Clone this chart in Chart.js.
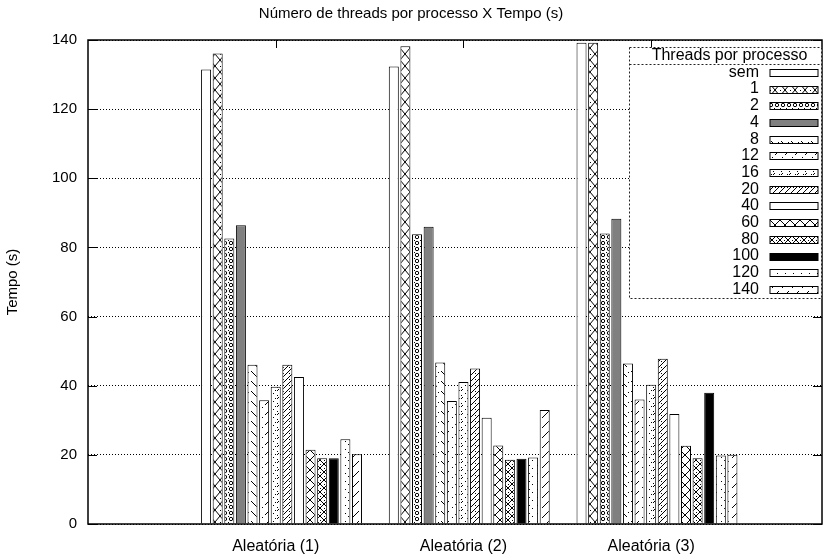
<!DOCTYPE html>
<html lang="pt">
<head>
<meta charset="UTF-8">
<title>Número de threads por processo X Tempo (s)</title>
<script src="https://cdn.jsdelivr.net/npm/chart.js"></script>
<style>
  html, body { margin: 0; padding: 0; background: #fff; }
  #chart { display: block; }
</style>
</head>
<body>
<canvas id="chart" width="832" height="556"></canvas>
<script>
// groups on the x axis
const categories = ['Aleatória (1)', 'Aleatória (2)', 'Aleatória (3)'];
// threads per process (legend)
const threadLabels = ['sem', '1', '2', '4', '8', '12', '16', '20', '40', '60', '80', '100', '120', '140'];
// time (s) for each group
const tSem = [131.5, 132.3, 139.2];
const t1   = [136.1, 138.2, 139.2];
const t2   = [82.6, 83.8, 84.0];
const t4   = [86.4, 86.0, 88.3];
const t8   = [46.1, 46.7, 46.4];
const t12  = [35.8, 35.6, 36.0];
const t16  = [39.7, 41.1, 40.3];
const t20  = [46.1, 45.0, 47.8];
const t40  = [42.5, 30.7, 31.8];
const t60  = [21.5, 22.7, 22.6];
const t80  = [19.0, 18.6, 19.0];
const t100 = [19.0, 18.9, 38.0];
const t120 = [24.5, 19.2, 19.8];
const t140 = [20.2, 33.0, 20.0];
const seriesValues = [tSem, t1, t2, t4, t8, t12, t16, t20, t40, t60, t80, t100, t120, t140];
const yTicks = [0, 20, 40, 60, 80, 100, 120, 140];

const FONT = '"Liberation Sans", Arial, Helvetica, sans-serif';

// gnuplot-like fill patterns
function makePattern(w, h, draw) {
	const c = document.createElement('canvas');
	c.width = w; c.height = h;
	const g = c.getContext('2d');
	g.fillStyle = '#fff'; g.fillRect(0, 0, w, h);
	g.strokeStyle = '#000'; g.fillStyle = '#000'; g.lineWidth = 1;
	draw(g);
	return g.createPattern(c, 'repeat');
}
function line(g, x1, y1, x2, y2) { g.beginPath(); g.moveTo(x1, y1); g.lineTo(x2, y2); g.stroke(); }
function dot(g, x, y) { g.fillRect(x, y, 1, 1); }

const fills = [
	'#fff',
	makePattern(10, 12, g => { line(g, 0, 0, 10, 12); line(g, 10, 0, 0, 12); dot(g, 0, 6); }),
	makePattern(6, 6, g => { g.beginPath(); g.arc(3, 3, 1.7, 0, Math.PI * 2); g.stroke(); dot(g, 0, 0); }),
	'#808080',
	makePattern(10, 10, g => { line(g, 1, 1, 7, 7); dot(g, 8, 2); }),
	makePattern(10, 10, g => { line(g, 9, 1, 5, 5); dot(g, 2, 7); }),
	makePattern(8, 8, g => { dot(g, 1, 1); dot(g, 5, 3); dot(g, 3, 6); line(g, 7, 5, 5, 7); }),
	makePattern(6, 6, g => { line(g, 6, 0, 0, 6); dot(g, 1, 1); }),
	'#fff',
	makePattern(10, 10, g => { line(g, 0, 0, 10, 10); line(g, 10, 0, 0, 10); }),
	makePattern(8, 8, g => { g.beginPath(); g.moveTo(4, 0); g.lineTo(8, 4); g.lineTo(4, 8); g.lineTo(0, 4); g.closePath(); g.stroke(); dot(g, 0, 0); dot(g, 4, 4); }),
	'#000',
	makePattern(8, 8, g => { dot(g, 1, 1); dot(g, 4, 4); }),
	makePattern(10, 10, g => { line(g, 9, 1, 2, 8); })
];

const toPoints = vals => vals.map((v, i) => ({ x: i, y: v }));
const barOpts = { categoryPercentage: 0.9275, barPercentage: 0.862, borderColor: '#000', borderWidth: 1 };

// first slot stays empty, like gnuplot's histogram offset
const datasets = [Object.assign({ label: '', data: categories.map((c, i) => ({ x: i, y: null })), backgroundColor: 'rgba(0,0,0,0)' }, barOpts)];
threadLabels.forEach((name, k) => {
	datasets.push(Object.assign({ label: name, data: toPoints(seriesValues[k]), backgroundColor: fills[k] }, barOpts));
});

const frame = {
	id: 'frame',
	afterDraw(chart) {
		const { ctx, chartArea: a, scales: { x, y } } = chart;
		ctx.save();
		ctx.strokeStyle = '#000';
		ctx.lineWidth = 1;
		ctx.beginPath();
		yTicks.forEach(v => {
			const py = Math.round(y.getPixelForValue(v)) + 0.5;
			ctx.moveTo(a.left, py); ctx.lineTo(a.left + 9, py);
			ctx.moveTo(a.right, py); ctx.lineTo(a.right - 9, py);
		});
		categories.forEach((c, i) => {
			const px = Math.round(x.getPixelForValue(i)) + 0.5;
			ctx.moveTo(px, a.top); ctx.lineTo(px, a.top + 8);
		});
		ctx.stroke();
		ctx.lineWidth = 1.5;
		ctx.strokeRect(a.left, a.top, a.right - a.left, a.bottom - a.top);

		// legend box
		const L = { left: a.right - 192.5, right: a.right - 0.5, top: a.top + 7.5, bottom: a.top + 258.5, head: a.top + 24.5 };
		ctx.fillStyle = '#fff';
		ctx.fillRect(L.left, L.top, L.right - L.left, L.bottom - L.top);
		ctx.lineWidth = 1;
		ctx.setLineDash([2, 2]);
		ctx.strokeStyle = '#222';
		ctx.strokeRect(L.left, L.top, L.right - L.left, L.bottom - L.top);
		ctx.beginPath(); ctx.moveTo(L.left, L.head); ctx.lineTo(L.right, L.head); ctx.stroke();
		ctx.setLineDash([]);
		ctx.fillStyle = '#000';
		ctx.font = '16px ' + FONT;
		ctx.textBaseline = 'middle';
		ctx.textAlign = 'center';
		ctx.fillText('Threads por processo', L.left + 100, a.top + 15.5);
		ctx.textAlign = 'right';
		threadLabels.forEach((name, k) => {
			const cy = a.top + 32.3 + k * 16.7;
			ctx.fillStyle = '#000';
			ctx.fillText(name, a.right - 63, cy);
			const sy = Math.round(cy - 3.5) + 0.5;
			ctx.fillStyle = fills[k];
			ctx.fillRect(a.right - 52, sy, 48, 7);
			ctx.strokeStyle = '#000';
			ctx.strokeRect(a.right - 52, sy, 48, 7);
		});
		ctx.restore();
	}
};

new Chart(document.getElementById('chart'), {
	type: 'bar',
	data: { datasets: datasets },
	options: {
		responsive: false,
		animation: false,
		devicePixelRatio: 1,
		layout: { padding: { left: 0, right: 10, top: 0, bottom: 0 } },
		plugins: {
			legend: { display: false },
			tooltip: { enabled: false },
			title: {
				display: true,
				text: 'Número de threads por processo X Tempo (s)',
				color: '#000',
				font: { family: FONT, size: 15, weight: 'normal' },
				padding: { top: 5, bottom: 17 }
			}
		},
		scales: {
			x: {
				type: 'linear',
				min: -1,
				max: 2.91,
				offset: false,
				grid: { display: false },
				border: { display: false },
				ticks: {
					stepSize: 1,
					includeBounds: false,
					autoSkip: false,
					maxRotation: 0,
					padding: 5,
					color: '#000',
					font: { family: FONT, size: 16 },
					callback: v => categories[v] || ''
				},
				afterFit: s => { s.height = 32; }
			},
			y: {
				min: yTicks[0],
				max: yTicks[yTicks.length - 1],
				grid: { color: '#000', drawTicks: false },
				border: { display: false, dash: [1, 2] },
				ticks: { stepSize: 20, padding: 11, color: '#000', font: { family: FONT, size: 15 } },
				title: { display: true, text: 'Tempo (s)', color: '#000', font: { family: FONT, size: 15 } },
				afterFit: s => { s.width = 88; }
			}
		}
	},
	plugins: [frame]
});
</script>
</body>
</html>
